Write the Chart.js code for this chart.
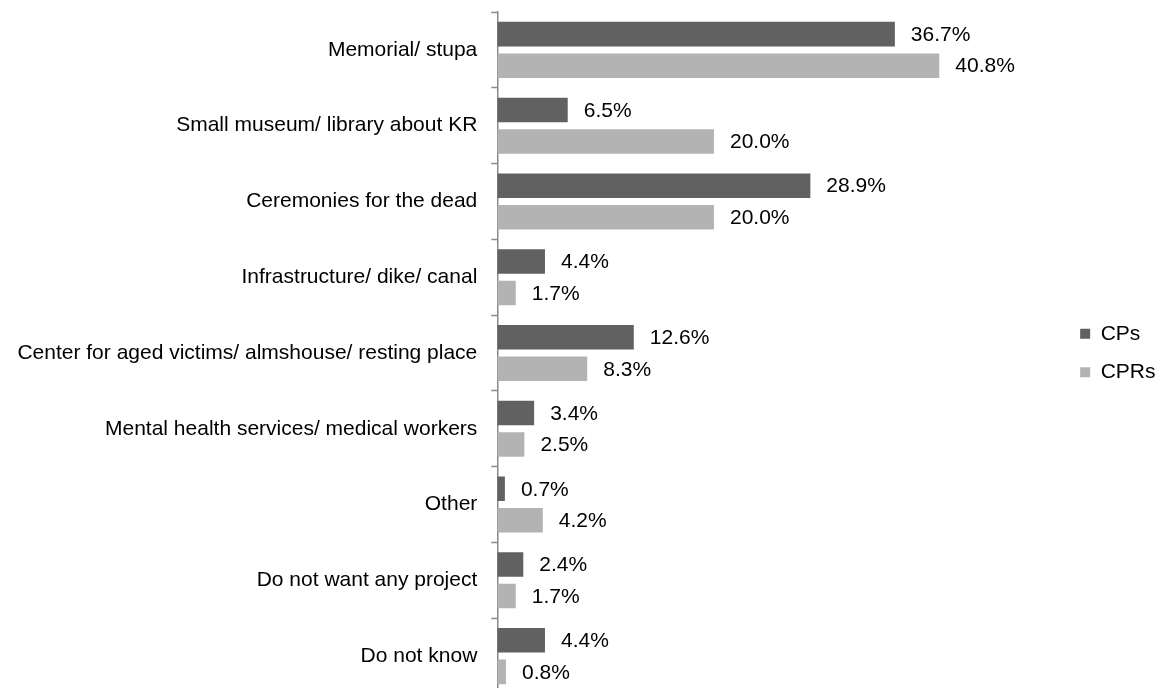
<!DOCTYPE html>
<html>
<head>
<meta charset="utf-8">
<script src="https://cdn.jsdelivr.net/npm/chart.js@4"></script>
<style>
  html, body { margin: 0; padding: 0; background: #fff; overflow: hidden; }
  #wrap { position: relative; width: 1161px; height: 700px; }
</style>
</head>
<body>
<div id="wrap"><canvas id="c"></canvas></div>
<script>
const categories = [
  "Memorial/ stupa",
  "Small museum/ library about KR",
  "Ceremonies for the dead",
  "Infrastructure/ dike/ canal",
  "Center for aged victims/ almshouse/ resting place",
  "Mental health services/ medical workers",
  "Other",
  "Do not want any project",
  "Do not know"
];
const seriesNames = ["CPs", "CPRs"];
const cpsValues  = [36.7, 6.5, 28.9, 4.4, 12.6, 3.4, 0.7, 2.4, 4.4];
const cprsValues = [40.8, 20.0, 20.0, 1.7, 8.3, 2.5, 4.2, 1.7, 0.8];

const FONT = "'Liberation Sans', Arial, Helvetica, sans-serif";
Chart.defaults.font.family = FONT;
Chart.defaults.font.size = 21;
Chart.defaults.color = '#000';

const valueLabels = {
  id: 'valueLabels',
  afterDatasetsDraw(chart) {
    const ctx = chart.ctx;
    ctx.save();
    ctx.font = '21px ' + FONT;
    ctx.fillStyle = '#000';
    ctx.textAlign = 'left';
    ctx.textBaseline = 'middle';
    chart.data.datasets.forEach((ds, di) => {
      const meta = chart.getDatasetMeta(di);
      meta.data.forEach((bar, i) => {
        const v = ds.data[i];
        ctx.fillText(v.toFixed(1) + '%', bar.x + 16, bar.y + 1);
      });
    });
    ctx.restore();
  }
};

new Chart(document.getElementById('c'), {
  type: 'bar',
  data: {
    labels: categories,
    datasets: [
      { label: seriesNames[0], data: cpsValues, backgroundColor: '#616161',
        categoryPercentage: 0.832, barPercentage: 0.778 },
      { label: seriesNames[1], data: cprsValues, backgroundColor: '#b3b3b3',
        categoryPercentage: 0.832, barPercentage: 0.778 }
    ]
  },
  options: {
    indexAxis: 'y',
    responsive: true,
    maintainAspectRatio: false,
    animation: false,
    layout: { padding: { left: 12, top: 12, bottom: 6, right: -4.5 } },
    scales: {
      x: {
        display: false,
        min: 0,
        max: 52.19
      },
      y: {
        offset: true,
        afterFit(scale) {
          scale.width = 485.3;
          scale.paddingTop = 0;
          scale.paddingBottom = 0;
        },
        grid: {
          display: true,
          drawOnChartArea: false,
          drawTicks: true,
          tickLength: 6,
          tickColor: '#8a8a8a',
          tickWidth: 1.5,
          offset: true
        },
        border: { display: true, color: '#8a8a8a', width: 1.5 },
        ticks: {
          padding: 14,
          color: '#000',
          font: { size: 21, family: FONT }
        }
      }
    },
    plugins: {
      legend: {
        position: 'right',
        align: 'center',
        labels: {
          boxWidth: 10,
          boxHeight: 10,
          padding: 17.5,
          color: '#000',
          font: { size: 21, family: FONT }
        }
      },
      tooltip: { enabled: false }
    }
  },
  plugins: [valueLabels]
});
</script>
</body>
</html>
